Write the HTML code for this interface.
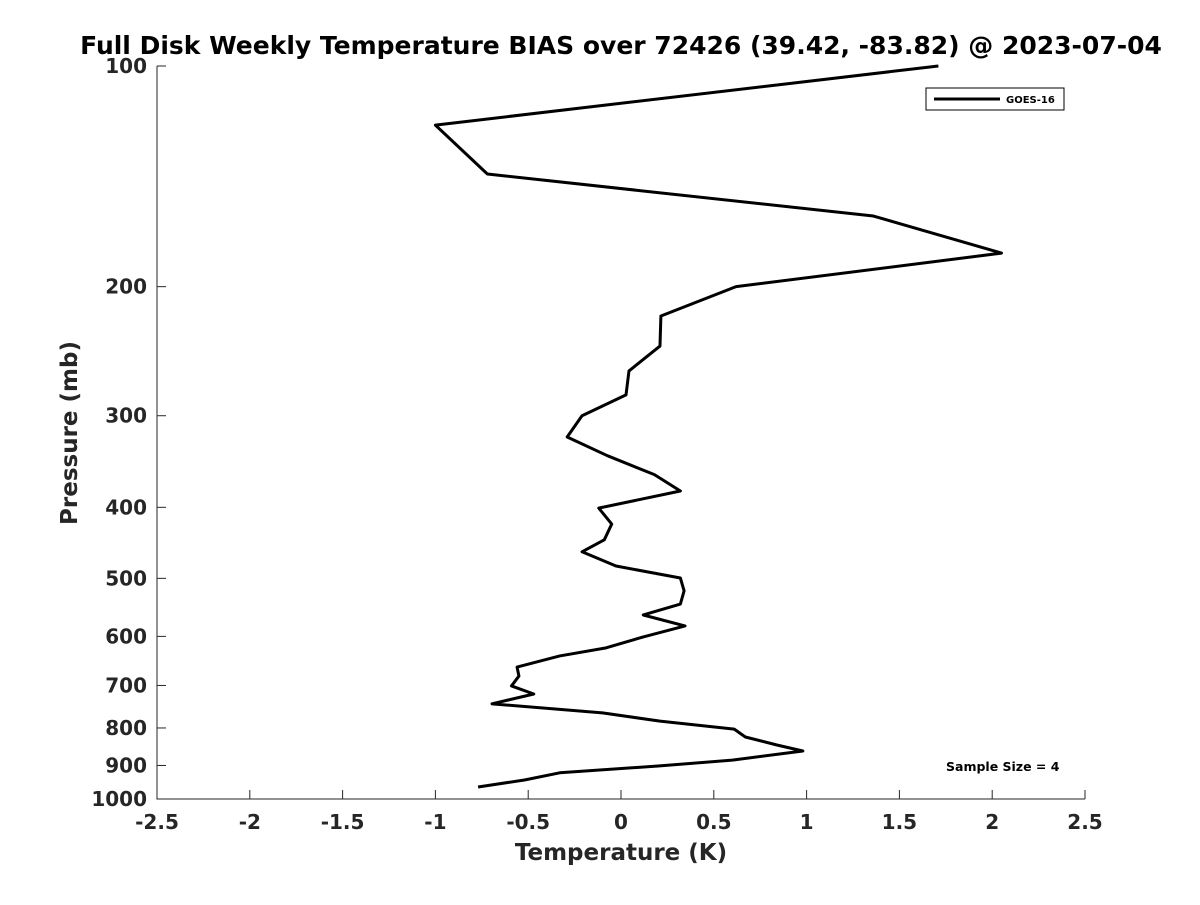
<!DOCTYPE html>
<html><head><meta charset="utf-8"><style>
body{margin:0;background:#fff;}
svg text{font-family:"DejaVu Sans","Liberation Sans",sans-serif;font-weight:bold;fill:#262626;}
</style></head><body>
<svg width="1200" height="900">
<text x="621" y="54" text-anchor="middle" font-size="25" style="fill:#000">Full Disk Weekly Temperature BIAS over 72426 (39.42, -83.82) @ 2023-07-04</text>
<g id="axes"></g>
<text x="621" y="860" text-anchor="middle" font-size="23">Temperature (K)</text>
<text transform="translate(77,433) rotate(-90)" text-anchor="middle" font-size="23">Pressure (mb)</text>
<g>
<rect x="926" y="88" width="138" height="22" fill="#fff" stroke="#000" stroke-width="1"/>
<line x1="934" y1="99" x2="1000" y2="99" stroke="#000" stroke-width="3"/>
<text x="1006" y="103" font-size="10" style="fill:#000">GOES-16</text>
</g>
<text x="946" y="771" font-size="12.5" style="fill:#000">Sample Size = 4</text>
</svg>
<script>
const temps=[1.71,-1.0,-0.72,1.36,2.05,0.62,0.215,0.21,0.043,0.027,-0.21,-0.29,-0.075,0.18,0.32,-0.12,-0.05,-0.09,-0.21,-0.027,0.32,0.34,0.32,0.12,0.345,0.12,-0.08,-0.33,-0.56,-0.55,-0.59,-0.47,-0.695,-0.10,0.21,0.61,0.67,0.84,0.98,0.60,0.20,-0.33,-0.52,-0.77];
const pressures=[100,120.4,140.4,160.2,180,200,219.3,241,260.6,281,300,320.7,340,361,380,401,421.6,443,460,481,499.5,520,542,561,580.6,601,622,638,660.6,679.6,701,719,741.6,763,783,803,823,844,860,885,901.6,921,942,963];
const xTicks=[-2.5,-2,-1.5,-1,-0.5,0,0.5,1,1.5,2,2.5];
const yTicks=[100,200,300,400,500,600,700,800,900,1000];
const L=157,R=1085,T=66,B=799;
const xs=v=>L+(v+2.5)/5*(R-L);
const ys=p=>T+(Math.log10(p)-2)*(B-T);
const ns="http://www.w3.org/2000/svg";
const g=document.getElementById('axes');
function mk(t,a){const e=document.createElementNS(ns,t);for(const k in a)e.setAttribute(k,a[k]);g.appendChild(e);return e;}
let ax=mk('path',{d:`M${L},${T}V${B}H${R}`,fill:'none',stroke:'#262626','stroke-width':1});


xTicks.forEach(v=>{const x=xs(v);
let l=mk('line',{x1:x,y1:B,x2:x,y2:B-9,stroke:'#262626'});


let t=mk('text',{x:x,y:B+30,'text-anchor':'middle','font-size':20});t.textContent=v;

});
yTicks.forEach(p=>{const y=ys(p);
let l=mk('line',{x1:L,y1:y,x2:L+9,y2:y,stroke:'#262626'});


let t=mk('text',{x:L-10,y:y+7,'text-anchor':'end','font-size':20});t.textContent=p;

});
let line=mk('polyline',{points:temps.map((v,i)=>xs(v)+','+ys(pressures[i])).join(' '),fill:'none',stroke:'#000','stroke-width':3,'stroke-linejoin':'round'});


</script>
</body></html>
